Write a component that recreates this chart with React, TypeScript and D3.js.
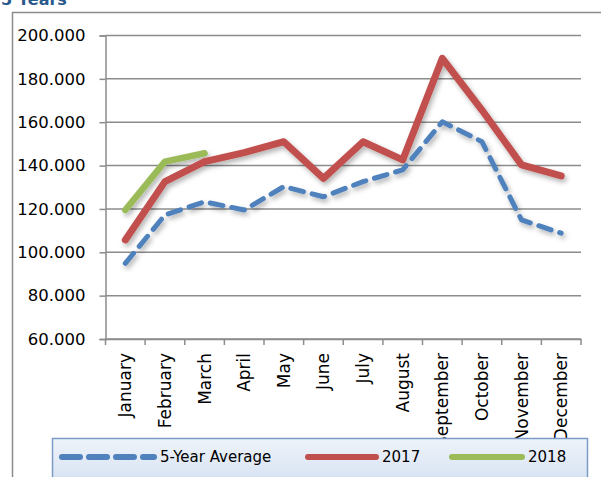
import * as d3 from 'd3';
import { useEffect, useRef } from 'react';

const months = ['January', 'February', 'March', 'April', 'May', 'June', 'July', 'August', 'September', 'October', 'November', 'December'];
const avg5 = [94.9, 117.2, 123.3, 119.5, 130.3, 125.6, 132.6, 138, 160.2, 151, 114.9, 108.8];
const y2017 = [105.7, 132.6, 141.8, 146, 151, 134.1, 151, 142.6, 189.5, 165.6, 140.3, 135.2];
const y2018 = [119.5, 141.8, 145.7];
const yTicks = [60, 80, 100, 120, 140, 160, 180, 200];

const W = 601;
const H = 477;
const FONT = '"DejaVu Sans", sans-serif';

const App = () => {
    const ref = useRef<SVGSVGElement>(null);

    useEffect(() => {
        const svg = d3.select(ref.current);
        svg.selectAll('*').remove();

        const left = 105.5, right = 581, top = 35.5, bottom = 339;

        const x = d3.scaleBand<string>().domain(months).range([left, right]);
        const y = d3.scaleLinear().domain([60, 200]).range([bottom, top]);

        const defs = svg.append('defs');
        const f = defs.append('filter').attr('id', 'shadow')
            .attr('x', '-10%').attr('y', '-10%').attr('width', '120%').attr('height', '130%');
        f.append('feDropShadow').attr('dx', 2).attr('dy', 3).attr('stdDeviation', 2.5)
            .attr('flood-color', '#000').attr('flood-opacity', 0.3);

        const grad = defs.append('linearGradient').attr('id', 'legbg')
            .attr('x1', 0).attr('y1', 0).attr('x2', 0).attr('y2', 1);
        grad.append('stop').attr('offset', '0%').attr('stop-color', '#eef3fa');
        grad.append('stop').attr('offset', '100%').attr('stop-color', '#d3e0f1');

        // title, cut off at the top as in the source
        svg.append('text').attr('x', 1).attr('y', 5)
            .attr('font-family', FONT).attr('font-weight', 'bold').attr('font-size', 16)
            .attr('fill', '#2a5a8c').text('5 Years');

        // outer frame
        svg.append('path').attr('d', `M12.5,${H}V12.5H${W}`)
            .attr('fill', 'none').attr('stroke', '#8c8c8c').attr('stroke-width', 1.5);

        // gridlines
        svg.append('g').selectAll('line').data(yTicks).enter().append('line')
            .attr('x1', left).attr('x2', right)
            .attr('y1', d => y(d)).attr('y2', d => y(d))
            .attr('stroke', '#8c8c8c').attr('stroke-width', 1.5);

        // y axis
        const ya = svg.append('g').attr('transform', `translate(${left},0)`)
            .call(d3.axisLeft(y).tickValues(yTicks).tickSize(6).tickPadding(14)
                .tickFormat(d => d3.format('.3f')(d as number)));
        ya.select('.domain').attr('stroke', '#8c8c8c').attr('stroke-width', 1.5);
        ya.selectAll('.tick line').attr('stroke', '#8c8c8c').attr('stroke-width', 1.5);
        ya.selectAll('.tick text').attr('font-family', FONT).attr('font-size', 16.5).attr('fill', '#000');

        // x axis
        const xa = svg.append('g').attr('transform', `translate(0,${bottom})`)
            .call(d3.axisBottom(x).tickSize(0).tickPadding(0));
        xa.select('.domain').attr('stroke', '#8c8c8c').attr('stroke-width', 1.5);
        xa.selectAll('.tick text')
            .attr('font-family', FONT).attr('font-size', 17).attr('fill', '#000')
            .attr('text-anchor', 'end').attr('dy', '0.35em')
            .attr('transform', 'translate(0,14) rotate(-90)');
        const bounds = months.map(m => x(m)!).concat([right]);
        xa.append('g').selectAll('line').data(bounds).enter().append('line')
            .attr('x1', d => d).attr('x2', d => d).attr('y1', 0).attr('y2', 6)
            .attr('stroke', '#8c8c8c').attr('stroke-width', 1.5);

        const cx = (i: number) => x(months[i])! + x.bandwidth() / 2;
        const line = d3.line<number>().x((_, i) => cx(i)).y(d => y(d));

        const lines = svg.append('g').attr('filter', 'url(#shadow)');
        lines.append('path').datum(avg5).attr('d', line)
            .attr('fill', 'none').attr('stroke', '#4f81bd').attr('stroke-width', 5)
            .attr('stroke-dasharray', '13 9').attr('stroke-linecap', 'round').attr('stroke-linejoin', 'round');
        lines.append('path').datum(y2017).attr('d', line)
            .attr('fill', 'none').attr('stroke', '#c0504d').attr('stroke-width', 7)
            .attr('stroke-linecap', 'round').attr('stroke-linejoin', 'round');
        lines.append('path').datum(y2018).attr('d', line)
            .attr('fill', 'none').attr('stroke', '#9bbb59').attr('stroke-width', 6.5)
            .attr('stroke-linecap', 'round').attr('stroke-linejoin', 'round');

        // legend
        const lg = svg.append('g');
        lg.append('rect').attr('x', 52.5).attr('y', 438.5).attr('width', 535).attr('height', 50)
            .attr('fill', 'url(#legbg)').attr('stroke', '#7b9bc6').attr('stroke-width', 1.5);
        const ly = 457;
        const items = [
            { name: '5-Year Average', color: '#4f81bd', x0: 62, x1: 154, dash: '18 9', w: 6 },
            { name: '2017', color: '#c0504d', x0: 308, x1: 376, dash: null, w: 6 },
            { name: '2018', color: '#9bbb59', x0: 452, x1: 522, dash: null, w: 6 },
        ];
        items.forEach(it => {
            const l = lg.append('line').attr('x1', it.x0).attr('x2', it.x1).attr('y1', ly).attr('y2', ly)
                .attr('stroke', it.color).attr('stroke-width', it.w).attr('stroke-linecap', 'round');
            if (it.dash) l.attr('stroke-dasharray', it.dash);
            lg.append('text').attr('x', it.x1 + 6).attr('y', ly).attr('dy', '0.35em')
                .attr('font-family', FONT).attr('font-size', 15).attr('fill', '#000').text(it.name);
        });
    }, []);

    return (
        <svg ref={ref} width={W} height={H}
             style={{ position: 'absolute', left: 0, top: 0, background: '#fff' }} />
    );
};

export default App;
